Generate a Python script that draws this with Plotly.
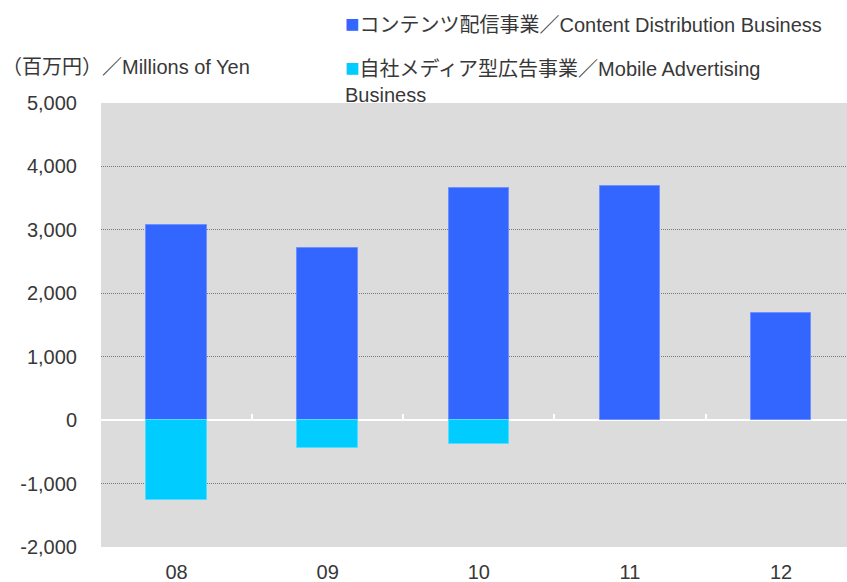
import plotly.graph_objects as go

years = ["08", "09", "10", "11", "12"]
content_values = [3076, 2713, 3659, 3695, 1697]
mobile_values = [-1257, -432, -374, None, None]
content_name = "コンテンツ配信事業／Content Distribution Business"
mobile_name = "自社メディア型広告事業／Mobile Advertising<br>Business"
unit_label = "（百万円）／Millions of Yen"
y_ticks = [-2000, -1000, 0, 1000, 2000, 3000, 4000, 5000]
y_tick_text = ["-2,000", "-1,000", "0", "1,000", "2,000", "3,000", "4,000", "5,000"]

BLUE = "#3366FF"
CYAN = "#00CCFF"
TXT = "#383838"
FONT = "Liberation Sans, Arial, Noto Sans CJK JP, sans-serif"

fig = go.Figure()
fig.add_trace(go.Bar(x=list(range(len(years))), y=content_values, name=content_name,
                     marker=dict(color=BLUE, line=dict(color="#6F8FFF", width=1)),
                     width=0.4, showlegend=False))
fig.add_trace(go.Bar(x=list(range(len(years))), y=mobile_values, name=mobile_name,
                     marker=dict(color=CYAN, line=dict(color="#55DDFF", width=1)),
                     width=0.4, showlegend=False))

# invisible trace to carry the boundary tick marks on zero line
fig.add_trace(go.Scatter(x=[0.5], y=[0], xaxis="x2", mode="markers",
                         marker=dict(opacity=0), showlegend=False, hoverinfo="skip"))

fig.update_layout(
    width=847, height=582, autosize=False,
    margin=dict(l=101, r=0, t=103, b=35),
    paper_bgcolor="white", plot_bgcolor="#DCDCDC",
    barmode="relative", bargap=0,
    font=dict(family=FONT, size=20, color=TXT),
    xaxis=dict(range=[-0.5, 4.436], tickmode="array", tickvals=list(range(len(years))),
               ticktext=years, showgrid=False, zeroline=False, showline=False,
               ticks="outside", ticklen=7, tickcolor="rgba(0,0,0,0)",
               tickfont=dict(size=20, color=TXT), automargin=False),
    xaxis2=dict(range=[-0.5, 4.436], overlaying="x", anchor="free", position=2/7,
                tickmode="array", tickvals=[0.5, 1.5, 2.5, 3.5], showticklabels=False,
                ticks="inside", ticklen=6, tickcolor="white", tickwidth=1.5,
                showgrid=False, zeroline=False, showline=False, automargin=False),
    yaxis=dict(range=[-2000, 5000], tickmode="array", tickvals=y_ticks, ticktext=y_tick_text,
               showgrid=True, gridcolor="#7A7A7A", griddash="1px,1px", gridwidth=1,
               zeroline=True, zerolinecolor="white", zerolinewidth=2,
               ticks="outside", ticklen=19, tickcolor="rgba(0,0,0,0)",
               tickfont=dict(size=20, color=TXT), showline=False, automargin=False),
    annotations=[
        dict(xref="paper", yref="paper", x=-101/746, y=1 + (103 - 67) / 444,
             xanchor="left", yanchor="middle", showarrow=False,
             text=unit_label, font=dict(size=20, color=TXT)),
        dict(xref="paper", yref="paper", x=(343 - 101) / 746, y=1 + (103 - 23) / 444,
             xanchor="left", yanchor="middle", showarrow=False, align="left",
             text=f"<span style='color:{BLUE}; font-size:24px'>■</span>{content_name}",
             font=dict(size=20, color=TXT)),
        dict(xref="paper", yref="paper", x=(343 - 101) / 746, y=1 + (103 - 80) / 444,
             xanchor="left", yanchor="middle", showarrow=False, align="left",
             text=f"<span style='color:{CYAN}; font-size:24px'>■</span>{mobile_name}",
             font=dict(size=20, color=TXT)),
    ],
)

fig.write_html("out.html", config={"displayModeBar": False},
               post_script="document.body.style.margin='0';document.body.style.overflow='hidden';")
